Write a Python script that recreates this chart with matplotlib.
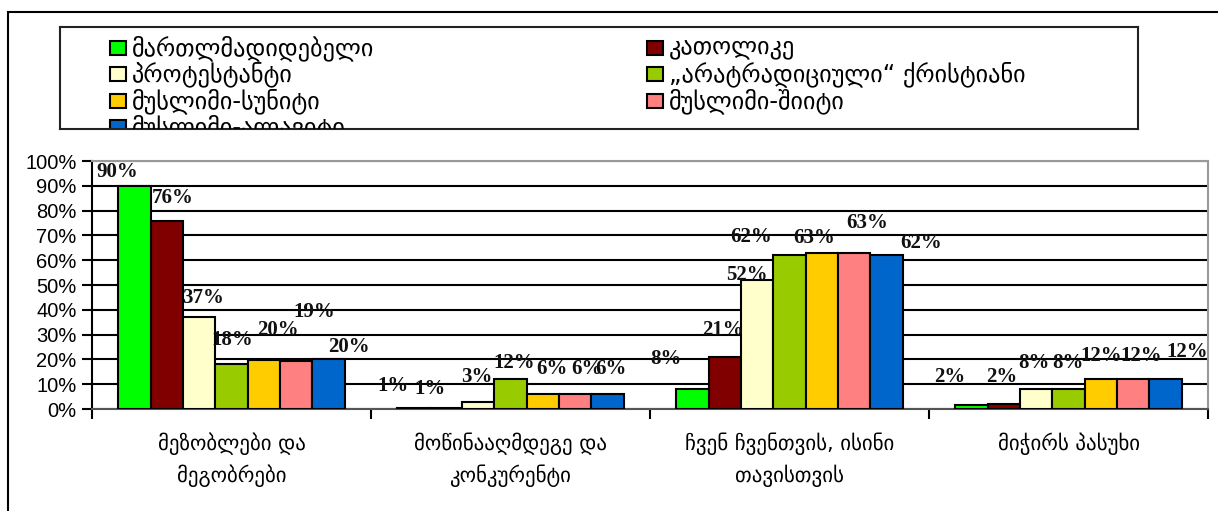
import matplotlib
matplotlib.use("Agg")
import matplotlib.pyplot as plt
from matplotlib.patches import Rectangle
import numpy as np

# categories (x axis) and series (legend)
categories = ["მეზობლები და\nმეგობრები",
              "მოწინააღმდეგე და\nკონკურენტი",
              "ჩვენ ჩვენთვის, ისინი\nთავისთვის",
              "მიჭირს პასუხი"]
series = ["მართლმადიდებელი", "კათოლიკე", "პროტესტანტი",
          "„არატრადიციული“ ქრისტიანი", "მუსლიმი-სუნიტი",
          "მუსლიმი-შიიტი", "მუსლიმი-ალავიტი"]

# percent values, one list per series (across the 4 categories)
orthodox = [90, 0.6, 8, 1.6]
catholic = [76, 0.6, 21, 2]
protestant = [37, 3, 52, 8]
nontrad = [18, 12, 62, 8]
sunni = [19.6, 6, 63, 12]
shia = [19.4, 6, 63, 12]
alawite = [20, 6, 62, 12]
values = [orthodox, catholic, protestant, nontrad, sunni, shia, alawite]

colors = ["#00FF00", "#800000", "#FFFFCC", "#99CC00", "#FFCC00", "#FF8080", "#0066CC"]

# excel-like scattered label placement (pixels: dx, dy above bar top), [series][category]
label_off = [
    [(-17, 14), (-21, 22), (-27, 30), (-22, 28)],
    [(6, 23), (-16, 19), (-2, 27), (-2, 27)],
    [(4, 19), (-1, 25), (-10, 5), (-2, 26)],
    [(1, 24), (4, 16), (-38, 18), (-1, 26)],
    [(14, 30), (9, 25), (-8, 15), (0, 23)],
    [(18, 49), (12, 25), (13, 30), (8, 23)],
    [(21, 12), (4, 25), (35, 12), (22, 27)],
]

W, H = 1218, 511
fig = plt.figure(figsize=(W / 100, H / 100), dpi=100)
fig.patch.set_facecolor("white")

# outer chart border (runs off the right and bottom edges)
fig.patches.append(Rectangle((8 / W, -0.05), 1.1, 1 - 12 / H + 0.05, transform=fig.transFigure,
                             fill=False, edgecolor="black", linewidth=1.5, zorder=0))

ax = fig.add_axes([92 / W, 1 - 409 / H, (1208 - 92) / W, (409 - 161) / H])
n = len(series)
bw = 0.1158
x = np.arange(len(categories)) + 0.5
for i, (vals, c) in enumerate(zip(values, colors)):
    pos = x + (i - (n - 1) / 2) * bw
    bars = ax.bar(pos, vals, width=bw, color=c, edgecolor="black", linewidth=1.5, zorder=3)
    for j, b in enumerate(bars):
        dx, dy = label_off[i][j]
        ax.annotate(f"{round(vals[j])}%", (b.get_x() + b.get_width() / 2, b.get_height()),
                    xytext=(dx, dy), textcoords="offset pixels", ha="center", va="center",
                    fontsize=15, fontweight="bold", family="Liberation Serif", color="#111111",
                    zorder=5, annotation_clip=False)

ax.set_xlim(0, 4)
ax.set_ylim(0, 100)
ax.set_yticks(np.arange(0, 101, 10))
ax.set_yticklabels([f"{v}%" for v in range(0, 101, 10)], family="Liberation Sans", fontsize=14.5)
ax.set_xticks([0, 1, 2, 3, 4])
ax.set_xticklabels([])
ax.tick_params(axis="both", direction="out", length=7, width=1.5, color="black")
ax.tick_params(axis="y", pad=4)
ax.yaxis.grid(True, color="black", linewidth=1.5, zorder=0)
ax.set_axisbelow(True)
for s in ["top", "right"]:
    ax.spines[s].set_color("#999999")
    ax.spines[s].set_linewidth(1.5)
ax.spines["left"].set_color("black")
ax.spines["left"].set_linewidth(1.5)
ax.spines["bottom"].set_color("#555555")
ax.spines["bottom"].set_linewidth(1.5)

for xi, cat in zip(x, categories):
    ax.text(xi, -0.095, cat, transform=ax.get_xaxis_transform(), ha="center", va="top",
            fontsize=15, family="DejaVu Sans", linespacing=1.55)

# legend box, clipped at the bottom like the original
lax = fig.add_axes([60 / W, 1 - 129 / H, (1138 - 60) / W, (129 - 27) / H])
lax.set_xlim(0, 1078)
lax.set_ylim(102, 0)
lax.set_xticks([])
lax.set_yticks([])
for s in lax.spines.values():
    s.set_linewidth(1.5)
    s.set_color("#222222")
cols_x = [50, 587]
for i, (name, c) in enumerate(zip(series, colors)):
    col = i % 2
    row = i // 2
    yc = 21 + row * 26.5
    lax.add_patch(Rectangle((cols_x[col], yc - 7), 16, 14, facecolor=c, edgecolor="black",
                            linewidth=1.5, clip_on=True))
    lax.text(cols_x[col] + 22, yc, name, ha="left", va="center", fontsize=17.5,
             family="DejaVu Sans", clip_on=True)

fig.savefig("out.png", dpi=100)
